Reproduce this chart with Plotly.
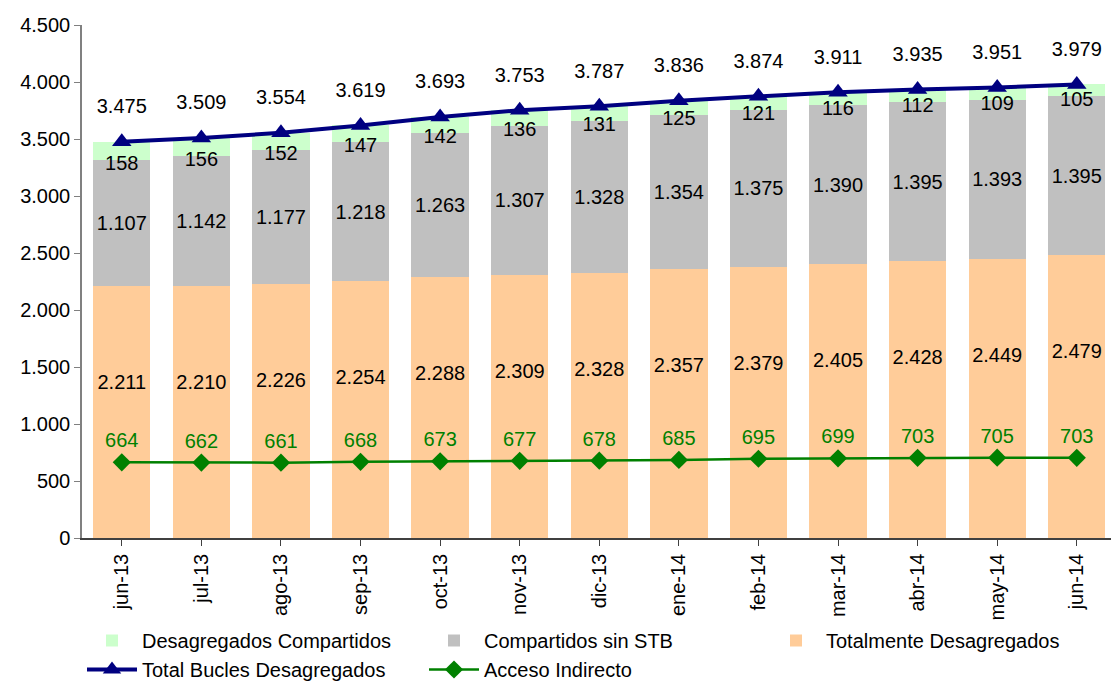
import plotly.graph_objects as go

months = ["jun-13", "jul-13", "ago-13", "sep-13", "oct-13", "nov-13", "dic-13",
          "ene-14", "feb-14", "mar-14", "abr-14", "may-14", "jun-14"]
totalmente = [2211, 2210, 2226, 2254, 2288, 2309, 2328, 2357, 2379, 2405, 2428, 2449, 2479]
compartidos_sin_stb = [1107, 1142, 1177, 1218, 1263, 1307, 1328, 1354, 1375, 1390, 1395, 1393, 1395]
desag_compartidos = [158, 156, 152, 147, 142, 136, 131, 125, 121, 116, 112, 109, 105]
total_bucles = [3475, 3509, 3554, 3619, 3693, 3753, 3787, 3836, 3874, 3911, 3935, 3951, 3979]
acceso_indirecto = [664, 662, 661, 668, 673, 677, 678, 685, 695, 699, 703, 705, 703]
y_ticks = [0, 500, 1000, 1500, 2000, 2500, 3000, 3500, 4000, 4500]


def fmt(v):
    return f"{v:,}".replace(",", ".")


FONT = "Liberation Sans, Arial, sans-serif"
FS = 20
x = list(range(len(months)))

fig = go.Figure()

fig.add_trace(go.Bar(
    x=x, y=totalmente, name="Totalmente Desagregados",
    marker=dict(color="#FFCC99", line=dict(width=0)), width=0.72,
    legendrank=3, hoverinfo="skip"))
fig.add_trace(go.Bar(
    x=x, y=compartidos_sin_stb, name="Compartidos sin STB",
    marker=dict(color="#C0C0C0", line=dict(width=0)), width=0.72,
    text=[fmt(v) for v in compartidos_sin_stb], textposition="inside",
    insidetextanchor="middle", constraintext="none",
    textfont=dict(size=FS, color="black", family=FONT),
    legendrank=2, hoverinfo="skip"))
fig.add_trace(go.Bar(
    x=x, y=desag_compartidos, name="Desagregados Compartidos",
    marker=dict(color="#CCFFCC", line=dict(width=0)), width=0.72,
    legendrank=1, hoverinfo="skip"))

# Labels for orange segment
fig.add_trace(go.Scatter(
    x=x, y=[v - 860 for v in totalmente], mode="text",
    text=[fmt(v) for v in totalmente], cliponaxis=False,
    textfont=dict(size=FS, color="black", family=FONT),
    showlegend=False, hoverinfo="skip"))
# Labels for green segment (just below its bottom)
fig.add_trace(go.Scatter(
    x=x, y=[a + b - 42 for a, b in zip(totalmente, compartidos_sin_stb)], mode="text",
    text=[fmt(v) for v in desag_compartidos], cliponaxis=False,
    textfont=dict(size=FS, color="black", family=FONT),
    showlegend=False, hoverinfo="skip"))

fig.add_trace(go.Scatter(
    x=x, y=total_bucles, name="Total Bucles Desagregados", mode="lines+markers",
    line=dict(color="#000080", width=4), cliponaxis=False,
    marker=dict(symbol="triangle-up", size=17, color="#000080"),
    legendrank=4, hoverinfo="skip"))
fig.add_trace(go.Scatter(
    x=x, y=[v + 295 for v in total_bucles], mode="text",
    text=[fmt(v) for v in total_bucles], cliponaxis=False,
    textfont=dict(size=FS, color="black", family=FONT),
    showlegend=False, hoverinfo="skip"))

fig.add_trace(go.Scatter(
    x=x, y=acceso_indirecto, name="Acceso Indirecto", mode="lines+markers",
    line=dict(color="#008000", width=2.5), cliponaxis=False,
    marker=dict(symbol="diamond", size=14, color="#008000"),
    legendrank=5, hoverinfo="skip"))
fig.add_trace(go.Scatter(
    x=x, y=[v + 175 for v in acceso_indirecto], mode="text",
    text=[fmt(v) for v in acceso_indirecto], cliponaxis=False,
    textfont=dict(size=FS, color="#008000", family=FONT),
    showlegend=False, hoverinfo="skip"))

fig.update_layout(
    width=1111, height=689,
    barmode="stack",
    separators=",.",
    paper_bgcolor="white", plot_bgcolor="white",
    margin=dict(l=82, r=0, t=25, b=149),
    font=dict(family=FONT, size=FS, color="black"),
    showlegend=True,
    legend=dict(orientation="h", x=0.0, y=-0.295, xanchor="left", yanchor="bottom",
                entrywidth=277, entrywidthmode="pixels", traceorder="normal",
                font=dict(size=FS, family=FONT), itemwidth=50, tracegroupgap=0),
    xaxis=dict(
        tickmode="array", tickvals=x, ticktext=months, tickangle=-90,
        range=[-0.5, 12.43], showgrid=False, showline=True, linecolor="#404040",
        linewidth=1.5, ticks="outside", tickson="boundaries", ticklen=6,
        tickcolor="#404040", zeroline=False, tickfont=dict(size=FS),
        automargin=False),
    yaxis=dict(
        range=[0, 4500], tickmode="array", tickvals=y_ticks, tickformat=",",
        showgrid=False, showline=True, linecolor="#808080", linewidth=1.5,
        ticks="outside", ticklen=6, tickcolor="#808080", zeroline=False,
        tickfont=dict(size=FS), automargin=False),
)

fig.write_html("out.html", config={"displayModeBar": False},
               post_script="document.body.style.margin='0';document.body.style.overflow='hidden';")
